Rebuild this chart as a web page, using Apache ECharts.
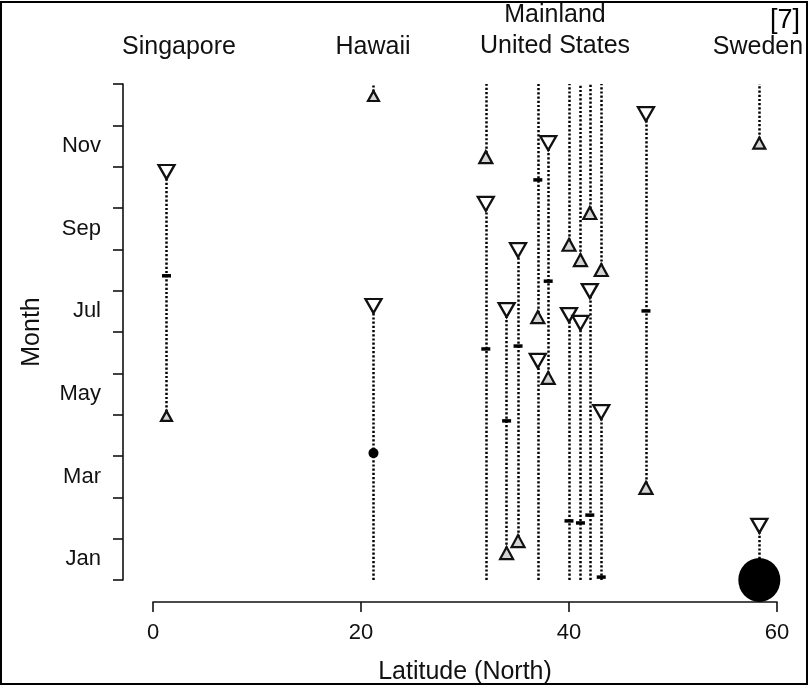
<!DOCTYPE html>
<html><head><meta charset="utf-8">
<script src="https://cdn.jsdelivr.net/npm/echarts@6.0.0/dist/echarts.min.js"></script>
<style>html,body{margin:0;padding:0;background:#fff}#chart{width:809px;height:686px}</style>
</head><body><div id="chart"></div>
<script>
// ---- data ----
const months = ['Jan','Feb','Mar','Apr','May','Jun','Jul','Aug','Sep','Oct','Nov','Dec'];
const xTicks = [0, 20, 40, 60];
const stations = ['Singapore','Hawaii','US-32','US-34','US-35','US-37','US-38','US-40','US-41','US-42','US-43','US-47','Sweden'];
const latitude = [1.3, 21.2, 32.0, 34.0, 35.1, 37.0, 38.0, 40.0, 41.1, 42.0, 43.1, 47.4, 58.3];
// months since 1 Jan (0..12)
const seasonStart = [3.97, 11.71, 10.23, 0.65, 0.94, 6.36, 4.89, 8.11, 7.74, 8.88, 7.50, 2.23, 10.57];
const seasonPeak  = [7.36, 3.07, 5.59, 3.85, 5.66, 9.68, 7.23, 1.43, 1.38, 1.57, 0.07, 6.51, 0.00];
const seasonEnd   = [9.87, 6.63, 9.10, 6.53, 7.98, 5.30, 10.57, 6.41, 6.22, 6.99, 4.06, 11.27, 1.31];
const regionNames = ['Singapore', 'Hawaii', 'Mainland\nUnited States', 'Sweden'];
const citation = '[7]';

// ---- styling ----
const FONT = "'Liberation Sans', Arial, Helvetica, sans-serif";
const INK = '#111';
const peakStyle = {
  Hawaii: { symbol: 'circle', symbolSize: 10 },
  Sweden: { symbol: 'circle', symbolSize: [42, 44] }
};
const startSize = { Singapore: [11, 10], Hawaii: [11, 10], Sweden: [12, 11] };
const regionPos = [[179, 47], [373, 47], [555, 31], [758, 47]];

// build dotted season segments (wrap around year end)
const segments = [];
stations.forEach((s, i) => {
  const a = seasonStart[i], b = seasonEnd[i], x = latitude[i];
  if (b >= a) segments.push({ coords: [[x, a], [x, b]] });
  else {
    segments.push({ coords: [[x, a], [x, 12]] });
    segments.push({ coords: [[x, 0], [x, b]] });
  }
});

const chart = echarts.init(document.getElementById('chart'), null, { renderer: 'canvas' });
chart.setOption({
  backgroundColor: '#fff',
  animation: false,
  grid: { left: 153, top: 84, width: 624, height: 496, containLabel: false, outerBoundsMode: 'none' },
  xAxis: [{
    type: 'value', min: xTicks[0], max: xTicks[xTicks.length - 1], interval: 20,
    position: 'bottom', offset: 22,
    axisLine: { show: true, onZero: false, lineStyle: { color: INK, width: 1.6 } },
    axisTick: { show: true, length: 10, lineStyle: { color: INK, width: 1.6 } },
    axisLabel: { color: INK, fontSize: 22, fontFamily: FONT, margin: 20 },
    splitLine: { show: false },
    name: 'Latitude (North)', nameLocation: 'middle', nameGap: 58, nameMoveOverlap: false,
    nameTextStyle: { color: INK, fontSize: 25, fontFamily: FONT }
  }],
  yAxis: [{
    type: 'category', data: months, boundaryGap: true, position: 'left', offset: 30,
    axisLine: { show: true, onZero: false, lineStyle: { color: INK, width: 1.6 } },
    axisTick: { show: true, length: 10, interval: 0, alignWithLabel: false, lineStyle: { color: INK, width: 1.6 } },
    axisLabel: { interval: 1, color: INK, fontSize: 22, fontFamily: FONT, margin: 22 },
    splitLine: { show: false },
    name: 'Month', nameLocation: 'middle', nameRotate: 90, nameGap: 78, nameMoveOverlap: false,
    nameTextStyle: { color: INK, fontSize: 25, fontFamily: FONT }
  }, {
    type: 'value', min: 0, max: 12, show: false
  }],
  series: [{
    type: 'lines', coordinateSystem: 'cartesian2d', xAxisIndex: 0, yAxisIndex: 1,
    polyline: false, silent: true, z: 1,
    lineStyle: { color: '#000', width: 2.5, type: [2.2, 2], opacity: 1 },
    data: segments
  }, {
    name: 'start', type: 'scatter', xAxisIndex: 0, yAxisIndex: 1, clip: false, z: 3,
    symbol: 'triangle',
    itemStyle: { color: '#d4d4d4', borderColor: INK, borderWidth: 2.2, opacity: 1 },
    data: stations.map((s, i) => ({ value: [latitude[i], seasonStart[i]], symbolSize: startSize[s] || [13, 12] }))
  }, {
    name: 'end', type: 'scatter', xAxisIndex: 0, yAxisIndex: 1, clip: false, z: 3,
    symbol: 'triangle', symbolRotate: 180, symbolSize: [16, 14],
    itemStyle: { color: '#fff', borderColor: INK, borderWidth: 2.3, opacity: 1 },
    data: stations.map((s, i) => [latitude[i], seasonEnd[i]])
  }, {
    name: 'peak', type: 'scatter', xAxisIndex: 0, yAxisIndex: 1, clip: false, z: 4,
    symbol: 'rect', symbolSize: [9, 3.5],
    itemStyle: { color: '#000', opacity: 1 },
    data: stations.map((s, i) => Object.assign({ value: [latitude[i], seasonPeak[i]] }, peakStyle[s] || {}))
  }],
  graphic: [
    ...regionNames.map((t, i) => ({
      type: 'text', x: regionPos[i][0], y: regionPos[i][1], silent: true,
      style: { text: t, fill: INK, font: '25px ' + FONT, textAlign: 'center', textVerticalAlign: 'middle', lineHeight: 31 }
    })),
    { type: 'text', x: 800, y: 21, silent: true,
      style: { text: citation, fill: '#000', font: '27px ' + FONT, textAlign: 'right', textVerticalAlign: 'middle' } },
    { type: 'rect', silent: true, z: 100,
      shape: { x: 1, y: 2, width: 806, height: 682 },
      style: { fill: 'none', stroke: '#000', lineWidth: 2 } }
  ]
});
</script>
</body></html>
